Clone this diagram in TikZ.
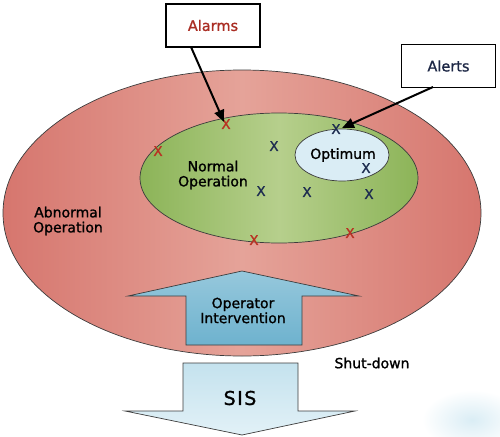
\documentclass[tikz,border=0pt]{standalone}
\usepackage{fontspec}
\setmainfont{DejaVu Sans}
\newfontfamily\semifont{DejaVu Sans}[FakeBold=1.2]
\usetikzlibrary{arrows.meta}
\definecolor{redside}{RGB}{214,118,110}
\definecolor{redmid}{RGB}{229,163,153}
\definecolor{greenside}{RGB}{140,180,88}
\definecolor{greenmid}{RGB}{182,207,140}
\definecolor{optfill}{RGB}{218,237,245}
\definecolor{opside}{RGB}{110,178,206}
\definecolor{opmid}{RGB}{150,200,220}
\definecolor{sistop}{RGB}{196,226,238}
\definecolor{sisbot}{RGB}{226,241,247}
\definecolor{alarmred}{RGB}{170,45,35}
\definecolor{alertnavy}{RGB}{30,40,70}
\definecolor{xblue}{RGB}{30,45,80}
\definecolor{xred}{RGB}{185,50,35}
\definecolor{edge}{RGB}{60,60,60}
\tikzset{
  lbl/.style={font=\semifont\fontsize{14}{16}\selectfont, align=center, inner sep=0pt, text=black},
  callout/.style={draw=black, line width=1.5pt, fill=white, minimum width=94pt, minimum height=43pt, font=\semifont\fontsize{14.5}{16}\selectfont, inner sep=0pt},
  xb/.style={font=\semifont\fontsize{13.5}{13}\selectfont, text=xblue, inner sep=0pt},
  xr/.style={font=\semifont\fontsize{13.5}{13}\selectfont, text=xred, inner sep=0pt},
  pointer/.style={line width=2pt, -{Triangle[length=12pt,width=10pt]}},
}
\begin{document}
\begin{tikzpicture}[x=1pt,y=-1pt]
\useasboundingbox (0,0) rectangle (500,436);
% faint blob
\shade[inner color=optfill, outer color=white] (472,420) ellipse [x radius=50, y radius=30];
% outer ellipse
\shade[left color=redside, right color=redside, middle color=redmid, draw=edge, line width=0.7pt]
  (242,213) ellipse [x radius=239, y radius=143];
\node (outer) at (242,213) [minimum width=478pt, minimum height=286pt, inner sep=0pt] {};
% green ellipse
\shade[left color=greenside, right color=greenside, middle color=greenmid, draw=edge, line width=0.7pt]
  (279,178) ellipse [x radius=139, y radius=65];
% optimum
\draw[fill=optfill, draw=edge, line width=0.7pt] (342,155) ellipse [x radius=47, y radius=26];
% texts
\node[lbl] (normal) at (213,175) {Normal\\[-1pt]Operation};
\node[lbl] (optimum) at (343,155) {Optimum};
\node[lbl] (abnormal) at (68,221) {Abnormal\\[-1pt]Operation};
\node[lbl] (shut) at (372,363) {Shut-down};
% X marks
\node[xr] (r1) at (226,124) {X};
\node[xr] (r2) at (158,151) {X};
\node[xr] (r3) at (254,240) {X};
\node[xr] (r4) at (350,233) {X};
\node[xb] (b1) at (274,146) {X};
\node[xb] (b2) at (336,129) {X};
\node[xb] (b3) at (366,168) {X};
\node[xb] (b4) at (261,191) {X};
\node[xb] (b5) at (307,192) {X};
\node[xb] (b6) at (369,194) {X};
% callouts
\node[callout, text=alarmred] (alarms) at (213,25.5) {Alarms};
\node[callout, text=alertnavy] (alerts) at (448.5,66) {Alerts};
\coordinate (alarmtip) at (224,122);
\coordinate (alerttip) at (342,128);
\draw[pointer] (191,47) -- (alarmtip);
\draw[pointer] (433,87) -- (alerttip);
% operator intervention arrow (up)
\shade[top color=opmid, bottom color=opside, draw=edge, line width=0.7pt]
  (242,271) -- (359,296) -- (302,296) -- (302,345) -- (186,345) -- (186,296) -- (128,296) -- cycle;
\node[lbl] (oper) at (243,310.5) {Operator\\[-1pt]Intervention};
% SIS arrow (down)
\shade[top color=sistop, bottom color=sisbot, draw=edge, line width=0.7pt]
  (183,363) -- (298,363) -- (298,411) -- (355,411) -- (242,435) -- (125,411) -- (183,411) -- cycle;
\node[font=\semifont\fontsize{19}{19}\selectfont, inner sep=0pt] (sis) at (240,398) {S\kern1.5pt I\kern1.5pt S};
\end{tikzpicture}
\end{document}
